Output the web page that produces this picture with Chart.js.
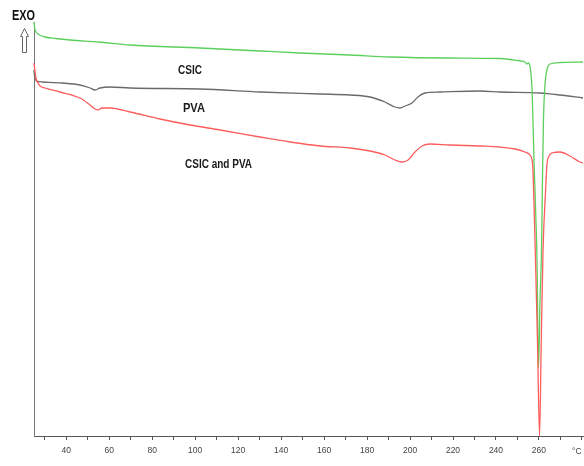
<!DOCTYPE html>
<html>
<head>
<meta charset="utf-8">
<script src="https://cdn.jsdelivr.net/npm/chart.js@4/dist/chart.umd.min.js"></script>
<style>
  html, body { margin: 0; padding: 0; background: #ffffff; }
  canvas { display: block; }
</style>
</head>
<body>
<canvas id="dsc" width="584" height="466"></canvas>
<script>
// DSC thermograms: temperature (°C) vs heat flow (arbitrary units, exo up)

// CSIC
const csicTemp = [25.0, 25.2, 25.5, 26.0, 26.9, 28.0, 30.1, 35.0, 41.9, 55.0, 69.7, 102.3, 130.2, 148.8, 172.1, 190.7, 218.6, 241.9, 251.2, 253.5, 254.4, 255.0, 255.8, 256.8, 257.2, 257.7, 258.6, 259.1, 259.8, 260.5, 261.2, 261.7, 262.1, 262.8, 263.7, 265.1, 269.8, 280.5];
const csicHeat = [41.4, 41.0, 40.6, 40.4, 40.2, 40.05, 39.9, 39.75, 39.6, 39.4, 39.1, 38.8, 38.5, 38.3, 38.1, 37.9, 37.8, 37.75, 37.5, 37.4, 37.2, 37.3, 37.0, 34.6, 31.6, 27.6, 21.6, 17.6, 6.8, 13.6, 18.6, 26.6, 31.6, 35.1, 36.6, 37.2, 37.35, 37.4];

// PVA
const pvaTemp = [25.0, 25.3, 26.2, 29.0, 38.1, 46.4, 51.1, 53.4, 55.7, 60.4, 69.7, 102.3, 130.2, 158.1, 172.1, 181.4, 188.3, 193.0, 195.3, 197.7, 200.9, 203.7, 207.0, 213.9, 232.6, 241.9, 260.5, 269.8, 280.5];
const pvaHeat = [36.6, 35.9, 35.5, 35.4, 35.3, 35.1, 34.8, 34.6, 34.8, 34.9, 34.8, 34.7, 34.4, 34.2, 34.1, 33.9, 33.4, 32.9, 32.8, 33.0, 33.3, 33.9, 34.3, 34.4, 34.5, 34.4, 34.3, 34.1, 33.8];

// CSIC and PVA
const blendTemp = [25.0, 25.5, 25.9, 26.9, 27.8, 30.1, 37.1, 46.4, 51.1, 53.4, 54.8, 56.6, 60.4, 69.7, 83.6, 97.6, 111.6, 130.2, 144.1, 158.1, 172.1, 181.4, 188.3, 193.0, 196.3, 199.1, 202.3, 205.6, 209.3, 218.6, 232.6, 241.9, 248.9, 253.5, 255.4, 255.8, 256.8, 257.2, 257.9, 258.4, 259.3, 260.3, 261.0, 261.9, 263.1, 263.7, 264.7, 266.1, 269.8, 274.4, 279.1, 280.5];
const blendHeat = [37.3, 36.4, 35.8, 35.3, 35.0, 34.8, 34.4, 33.8, 33.1, 32.7, 32.6, 32.8, 32.8, 32.4, 31.7, 31.1, 30.6, 29.9, 29.4, 29.0, 28.8, 28.5, 28.1, 27.6, 27.4, 27.6, 28.4, 29.0, 29.2, 29.1, 29.0, 28.9, 28.7, 28.4, 28.2, 28.1, 27.6, 26.6, 21.6, 17.6, 9.6, 0.0, 8.6, 18.6, 24.6, 27.1, 28.0, 28.3, 28.4, 28.0, 27.4, 27.3];

// Axis ticks
const tickValues = [30, 40, 50, 60, 70, 80, 90, 100, 110, 120, 130, 140, 150, 160, 170, 180, 190, 200, 210, 220, 230, 240, 250, 260, 270, 280];
const tickLabels = [40, 60, 80, 100, 120, 140, 160, 180, 200, 220, 240, 260];

// Curve labels: [text, temperature, heat flow, width]
const curveLabels = [
  ['CSIC', 92.0, 36.6, 24],
  ['PVA', 94.3, 32.8, 22],
  ['CSIC and PVA', 95.3, 27.2, 67]
];

const zip = (xs, ys) => xs.map((x, i) => ({ x: x, y: ys[i] }));

// Draw text squeezed horizontally into a given width
function fitText(ctx, text, x, y, width) {
  const w = ctx.measureText(text).width;
  const s = Math.min(1, width / w);
  ctx.save();
  ctx.translate(x, y);
  ctx.scale(s, 1);
  ctx.fillText(text, 0, 0);
  ctx.restore();
}

const annotations = {
  id: 'dscAnnotations',
  afterDraw(chart) {
    const ctx = chart.ctx;
    const xs = chart.scales.x, ys = chart.scales.y;
    ctx.save();

    // EXO marker with hollow up arrow
    ctx.fillStyle = '#111111';
    ctx.font = 'bold 15px "Liberation Sans", Arial, sans-serif';
    ctx.textBaseline = 'alphabetic';
    ctx.textAlign = 'left';
    fitText(ctx, 'EXO', 12, 20, 23);

    ctx.strokeStyle = '#666666';
    ctx.lineWidth = 1;
    ctx.beginPath();
    ctx.moveTo(24.5, 28.5);
    ctx.lineTo(28.5, 36.5);
    ctx.lineTo(26.5, 36.5);
    ctx.lineTo(26.5, 52.5);
    ctx.lineTo(22.5, 52.5);
    ctx.lineTo(22.5, 36.5);
    ctx.lineTo(20.5, 36.5);
    ctx.closePath();
    ctx.stroke();

    // Curve labels
    ctx.fillStyle = '#1a1a1a';
    ctx.font = 'bold 13px "Liberation Sans", Arial, sans-serif';
    ctx.textBaseline = 'middle';
    curveLabels.forEach(([t, xv, yv, w]) => {
      fitText(ctx, t, xs.getPixelForValue(xv), ys.getPixelForValue(yv), w);
    });

    // Unit at the end of the temperature axis
    ctx.fillStyle = '#444444';
    ctx.font = '8.5px "Liberation Sans", Arial, sans-serif';
    ctx.textAlign = 'center';
    ctx.textBaseline = 'middle';
    ctx.fillText('°C', xs.getPixelForValue(277.6), 451.5);
    ctx.restore();
  }
};

new Chart(document.getElementById('dsc'), {
  type: 'line',
  data: {
    datasets: [
      {
        label: 'CSIC and PVA',
        data: zip(blendTemp, blendHeat),
        borderColor: '#ff5c5c',
        borderWidth: 1.3,
        order: 0
      },
      {
        label: 'CSIC',
        data: zip(csicTemp, csicHeat),
        borderColor: '#5cd05c',
        borderWidth: 1.3,
        order: 1
      },
      {
        label: 'PVA',
        data: zip(pvaTemp, pvaHeat),
        borderColor: '#6a6a6a',
        borderWidth: 1.3,
        order: 2
      }
    ]
  },
  options: {
    responsive: false,
    animation: false,
    devicePixelRatio: 1,
    layout: { padding: { top: 22, right: 1, left: 0, bottom: 0 } },
    elements: {
      point: { radius: 0 },
      line: { cubicInterpolationMode: 'monotone', fill: false }
    },
    datasets: { line: { clip: 4 } },
    plugins: {
      legend: { display: false },
      tooltip: { enabled: false }
    },
    scales: {
      x: {
        type: 'linear',
        min: 25,
        max: 280.5,
        afterFit: (s) => { s.height = 30; s.paddingLeft = 0; s.paddingRight = 0; },
        afterBuildTicks: (axis) => { axis.ticks = tickValues.map(v => ({ value: v })); },
        ticks: {
          autoSkip: false,
          maxRotation: 0,
          padding: 6,
          color: '#444444',
          font: { family: '"Liberation Sans", Arial, sans-serif', size: 8.5 },
          callback: (v) => (tickLabels.includes(v) ? String(v) : '')
        },
        grid: {
          drawOnChartArea: false,
          drawTicks: true,
          tickLength: 4,
          color: '#555555'
        },
        border: { display: true, color: '#555555', width: 1 }
      },
      y: {
        min: 0,
        max: 41.4,
        afterFit: (s) => { s.width = 34; s.paddingTop = 0; s.paddingBottom = 0; },
        ticks: { display: false },
        grid: { drawOnChartArea: false, drawTicks: false },
        border: { display: true, color: '#777777', width: 1 }
      }
    }
  },
  plugins: [annotations]
});
</script>
</body>
</html>
